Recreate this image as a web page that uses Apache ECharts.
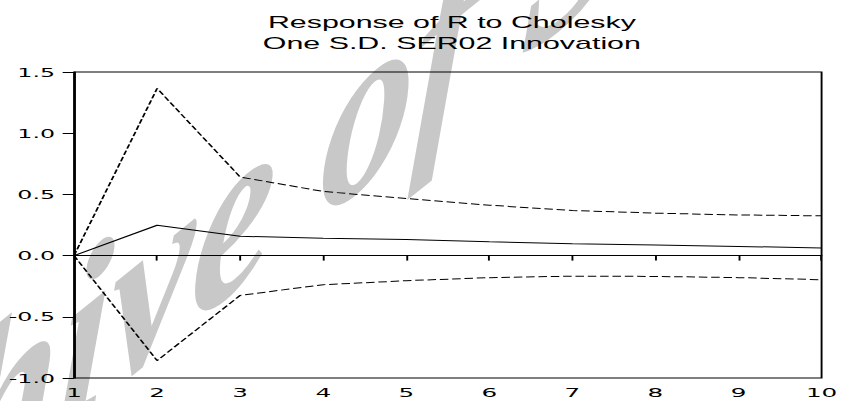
<!DOCTYPE html>
<html>
<head>
<meta charset="utf-8">
<script src="https://cdn.jsdelivr.net/npm/echarts@6/dist/echarts.min.js"></script>
<style>
html, body { margin: 0; padding: 0; background: #fff; overflow: hidden; }
/* the reference is stretched sideways, so the chart is drawn narrow and scaled */
#main { width: 444px; height: 401px; transform: scaleX(1.8986); transform-origin: 0 0; }
</style>
</head>
<body>
<div id="main"></div>
<script>
// periods 1..10
var periods = ['1', '2', '3', '4', '5', '6', '7', '8', '9', '10'];

// response of R
var response = [0, 0.248, 0.158, 0.142, 0.131, 0.113, 0.097, 0.087, 0.075, 0.062];
// +/- 2 S.E. bands
var upperBand = [0, 1.366, 0.642, 0.524, 0.466, 0.412, 0.368, 0.347, 0.332, 0.325];
var lowerBand = [0, -0.858, -0.325, -0.238, -0.205, -0.180, -0.168, -0.170, -0.180, -0.197];

var titleLines = ['Response of R to Cholesky', 'One S.D. SER02 Innovation'];
var watermark = 'Archive of SID';

var stretch = 843 / 444;
var font = '"Liberation Sans", Arial, Helvetica, sans-serif';
var tickFont = '"DejaVu Sans", Verdana, sans-serif';

//watermark is sheared: baseline goes up-right, glyph verticals stay near vertical
//split the wanted 2x2 map into rotate * scale * rotate (group + child text)
function shearToRotScale(a, b, c, d) {
    var E = (a + d) / 2, F = (a - d) / 2, G = (c + b) / 2, H = (c - b) / 2;
    var Q = Math.sqrt(E * E + H * H), R = Math.sqrt(F * F + G * G);
    var a1 = Math.atan2(G, F), a2 = Math.atan2(H, E);
    return {
        outerRot: -(a2 + a1) / 2,
        innerRot: -(a2 - a1) / 2,
        sx: Q + R,
        sy: Q - R
    };
}
var wm = shearToRotScale(1.86 / stretch, -0.15 / stretch, -1.5, 2.4);

var myChart = echarts.init(document.getElementById('main'), null, { renderer: 'svg' });

var option = {
    animation: false,
    backgroundColor: '#fff',
    title: {
        text: titleLines.join('\n'),
        left: 238,
        top: 12,
        textAlign: 'center',
        padding: 0,
        textStyle: {
            fontFamily: font,
            fontSize: 16,
            fontWeight: 'normal',
            color: '#000',
            lineHeight: 21
        }
    },
    graphic: [{
        type: 'group',
        x: 134.6,
        y: 197,
        rotation: wm.outerRot,
        scaleX: wm.sx,
        scaleY: wm.sy,
        z: -10,
        silent: true,
        children: [{
            type: 'text',
            rotation: wm.innerRot,
            z: -10,
            style: {
                text: watermark,
                fontFamily: '"Liberation Serif", "Times New Roman", serif',
                fontStyle: 'italic',
                fontWeight: 'bold',
                fontSize: 100,
                fill: '#c8c8c8',
                textAlign: 'center',
                textVerticalAlign: 'middle'
            }
        }]
    }],
    grid: {
        left: 39,
        right: 7.5,
        top: 72,
        bottom: 23,
        show: true,
        borderColor: '#000',
        borderWidth: 1,
        backgroundColor: 'transparent'
    },
    xAxis: {
        type: 'category',
        data: periods,
        boundaryGap: false,
        axisLine: { lineStyle: { color: '#000', width: 1 } },
        axisTick: { show: true, length: 5, lineStyle: { color: '#000' } },
        axisLabel: {
            color: '#000',
            fontFamily: tickFont,
            fontSize: 13,
            margin: 8,
            interval: 0
        },
        splitLine: { show: false }
    },
    yAxis: {
        type: 'value',
        min: -1,
        max: 1.5,
        interval: 0.5,
        axisLine: { show: true, lineStyle: { color: '#000', width: 1 } },
        axisTick: { show: true, length: 6, lineStyle: { color: '#000' } },
        axisLabel: {
            color: '#000',
            fontFamily: tickFont,
            fontSize: 12.5,
            margin: 10,
            formatter: function (v) { return v.toFixed(1); }
        },
        splitLine: { show: false }
    },
    series: [
        {
            name: 'Response',
            type: 'line',
            data: response,
            symbol: 'none',
            lineStyle: { color: '#000', width: 1 },
            markLine: {
                silent: true,
                symbol: 'none',
                label: { show: false },
                lineStyle: { color: '#000', width: 1, type: 'solid' },
                data: [{ yAxis: 0 }]
            }
        },
        {
            name: 'Upper',
            type: 'line',
            data: upperBand,
            symbol: 'none',
            lineStyle: { color: '#000', width: 1, type: [4.5, 2] }
        },
        {
            name: 'Lower',
            type: 'line',
            data: lowerBand,
            symbol: 'none',
            lineStyle: { color: '#000', width: 1, type: [4.5, 2] }
        }
    ]
};

myChart.setOption(option);
</script>
</body>
</html>
